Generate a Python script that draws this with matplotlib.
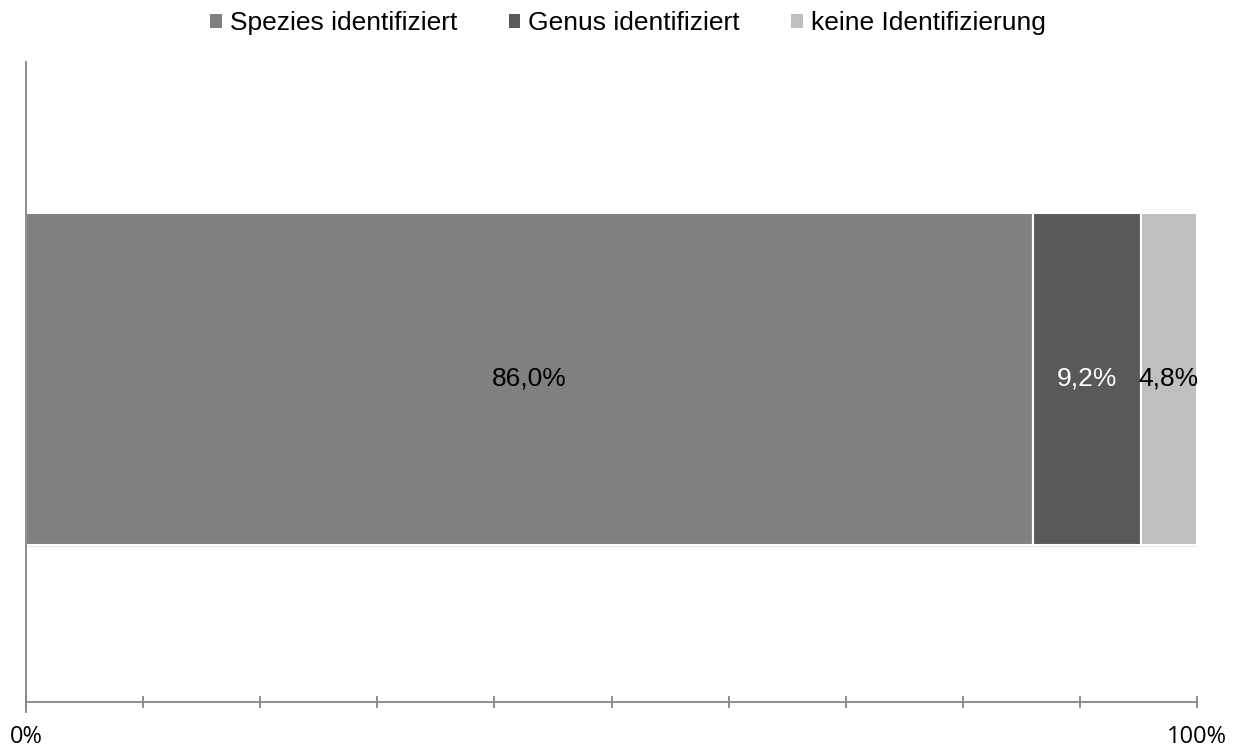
import matplotlib
matplotlib.use("Agg")
import matplotlib.pyplot as plt
import matplotlib.patheffects as pe
from matplotlib.patches import Patch

categories = ["Spezies identifiziert", "Genus identifiziert", "keine Identifizierung"]
values = [86.0, 9.2, 4.8]
colors = ["#808080", "#595959", "#BFBFBF"]
label_colors = ["black", "white", "black"]
tick_labels = {0: "0%", 100: "100%"}

fig = plt.figure(figsize=(12.38, 7.49), dpi=100)
ax = fig.add_axes([26 / 1238, 1 - 702 / 749, (1197 - 26) / 1238, 640 / 749])

left = 0.0
for name, v, c, lc in zip(categories, values, colors, label_colors):
    bar = ax.barh(0.505, v, left=left, height=0.519, color=c, edgecolor="white",
                  linewidth=1.5, label=name)
    bar.patches[0].set_path_effects([pe.SimplePatchShadow(offset=(1, -1.5), alpha=0.12),
                                     pe.Normal()])
    ax.text(left + v / 2, 0.505, f"{v:.1f}%".replace(".", ","), ha="center", va="center",
            color=lc, fontsize=19, family="Liberation Sans")
    left += v

ax.set_xlim(0, 100)
ax.set_ylim(0, 1)
ax.set_xticks(range(0, 101, 10))
ax.set_xticklabels([tick_labels.get(t, "") for t in range(0, 101, 10)],
                   fontsize=17, family="Open Sans")
ax.tick_params(axis="x", direction="inout", length=9, width=1.3, color="#868686", pad=12)
ax.tick_params(axis="y", left=False, labelleft=False)
for s in ["top", "right"]:
    ax.spines[s].set_visible(False)
ax.spines["bottom"].set_color("#868686")
ax.spines["bottom"].set_linewidth(1.3)
ax.spines["left"].set_color("#868686")
ax.spines["left"].set_linewidth(1.3)
ax.spines["left"].set_bounds(-0.015, 1)

handles = [Patch(facecolor=c, edgecolor="none") for c in colors]
fig.legend(handles=handles, labels=categories, loc="center",
           bbox_to_anchor=(0.5 + 9 / 1238, 1 - 23 / 749),
           ncol=3, frameon=False, prop={"family": "Liberation Sans", "size": 19},
           handlelength=0.45, handleheight=0.45, handletextpad=0.3, columnspacing=1.95)

fig.savefig("out.png", dpi=100)
